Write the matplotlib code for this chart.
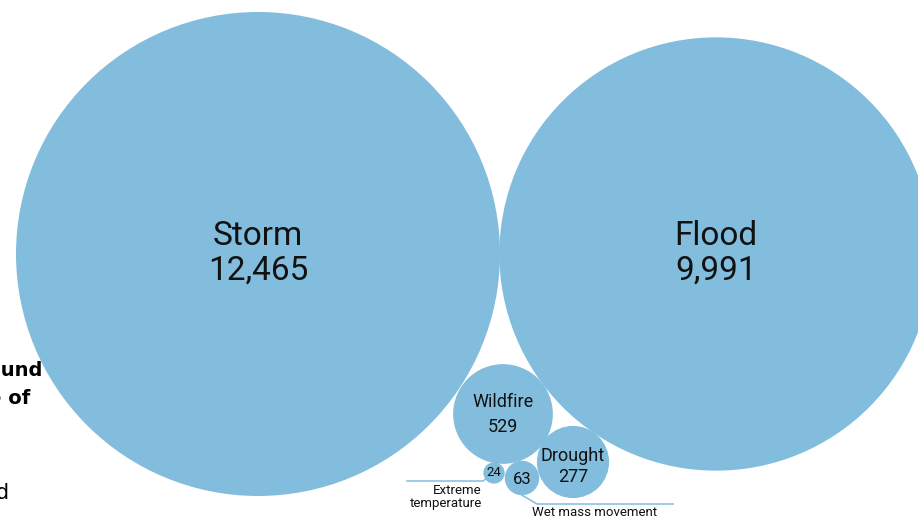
import matplotlib
matplotlib.use("Agg")
import matplotlib.pyplot as plt
from matplotlib.patches import Circle
import numpy as np

plt.rcParams["font.family"] = ["Roboto", "DejaVu Sans"]

# disaster type counts
names = ["Storm", "Flood", "Wildfire", "Drought", "Wet mass movement", "Extreme temperature"]
values = [12465, 9991, 529, 277, 63, 24]

# bubble layout (pixel space of the 918x519 canvas)
centers = [(258, 254), (716, 254), (503, 414), (573, 462), (522, 478), (494, 473)]
R_MAX = 242
BLUE = "#82bddd"
INK = "#111111"
W = "normal"

fig = plt.figure(figsize=(9.18, 5.19), dpi=100)
ax = fig.add_axes([0, 0, 1, 1])
ax.set_xlim(0, 918)
ax.set_ylim(519, 0)
ax.set_aspect("equal")
ax.axis("off")

radii = [R_MAX * np.sqrt(v / max(values)) for v in values]
for (cx, cy), r in zip(centers, radii):
    ax.add_patch(Circle((cx, cy), r, color=BLUE, lw=0))

fmt = lambda v: f"{v:,}"
# big ones
for i in (0, 1):
    cx, cy = centers[i]
    ax.text(cx, cy - 18, names[i], ha="center", va="center", fontsize=24,
            color=INK, fontweight=W)
    ax.text(cx, cy + 17, fmt(values[i]), ha="center", va="center", fontsize=24,
            color=INK, fontweight=W)
# mid ones
for i, (dy1, dy2) in ((2, (-12, 13)), (3, (-6, 15))):
    cx, cy = centers[i]
    ax.text(cx, cy + dy1, names[i], ha="center", va="center", fontsize=13,
            color=INK, fontweight=W)
    ax.text(cx, cy + dy2, fmt(values[i]), ha="center", va="center", fontsize=13,
            color=INK, fontweight=W)
# small ones: value inside, name outside with leader
cx, cy = centers[4]
ax.text(cx, cy + 1, fmt(values[4]), ha="center", va="center", fontsize=12,
        color=INK, fontweight=W)
ax.plot([cx, cx + 15, 673], [cy + radii[4], 504, 504], color=BLUE, lw=1.1)
ax.text(532, 513, names[4], ha="left", va="center", fontsize=9.5, color=INK,
        fontweight=W)

cx, cy = centers[5]
ax.text(cx, cy, fmt(values[5]), ha="center", va="center", fontsize=9.5,
        color=INK, fontweight=W)
ax.plot([cx - 7, cx - 11, 407], [cy + 5, 481, 481], color=BLUE, lw=1.1)
ax.text(482, 497, "Extreme\ntemperature", ha="right", va="center", fontsize=9.5,
        color=INK, fontweight=W, linespacing=1.05)

# clipped text from neighbouring panel
ax.text(42, 371, "Sorted around", ha="right", va="center", fontsize=14,
        fontweight="bold", color="black", family=["DejaVu Sans"])
ax.text(30, 398, "share of", ha="right", va="center", fontsize=14,
        fontweight="bold", color="black", family=["DejaVu Sans"])
ax.text(10, 493, "and", ha="right", va="center", fontsize=15,
        color="black", family=["DejaVu Sans"])

fig.savefig("out.png", dpi=100)
